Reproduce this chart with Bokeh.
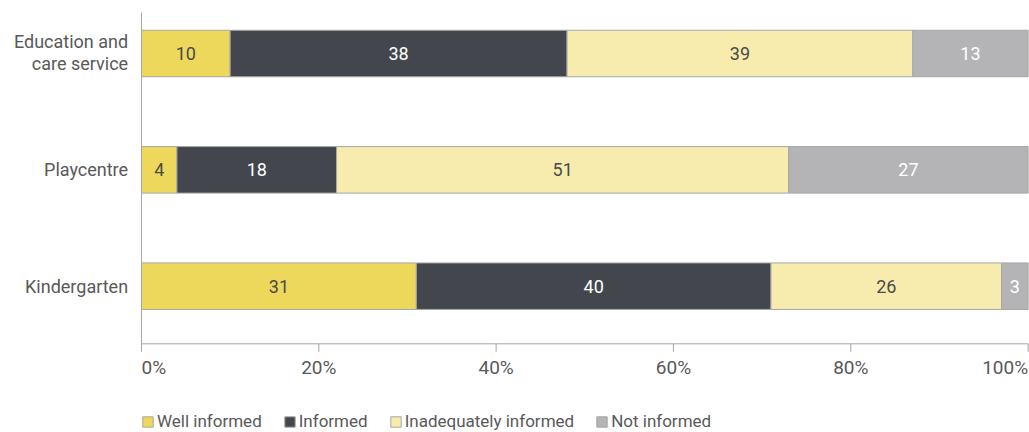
from bokeh.plotting import figure
from bokeh.models import Range1d, Legend, LegendItem, ColumnDataSource
from bokeh.core.properties import value
from bokeh.embed import file_html
from bokeh.resources import INLINE

# ---- data ----
categories = ["Kindergarten", "Playcentre", "Education and care service"]
category_lines = [["Kindergarten"], ["Playcentre"], ["Education and", "care service"]]
series_names = ["Well informed", "Informed", "Inadequately informed", "Not informed"]
well_informed = [31, 4, 10]
informed = [40, 18, 38]
inadequately_informed = [26, 51, 39]
not_informed = [3, 27, 13]
x_ticks = [0, 20, 40, 60, 80, 100]
x_tick_labels = ["0%", "20%", "40%", "60%", "80%", "100%"]

# ---- styles / layout ----
colors = ["#EDD85B", "#43474D", "#F7ECAE", "#B4B4B6"]
text_colors = ["#4A4A4A", "#FFFFFF", "#4A4A4A", "#FFFFFF"]
FONT = "Roboto"
GREY_TEXT = "#595959"
LINE = "#A6A6A6"

W, H = 1029, 432
PX_X = 8.866          # pixels per percentage point
PX_Y = 116.35         # pixels per category step
X0_PX = 141.0         # pixel column of 0 %
Y0_PX = 285.7         # pixel row of first category (from top)
AXIS_PX = 343.3       # pixel row of x axis line
TOP_PX = 12.0         # top of y axis line

def dy(px):
    return px / PX_Y

def dx(px):
    return px / PX_X

ypos = list(range(len(categories)))
axis_y = -dy(AXIS_PX - Y0_PX)
axis_top = dy(Y0_PX - TOP_PX)

p = figure(width=W, height=H,
           x_range=Range1d(-dx(X0_PX), dx(W - X0_PX)),
           y_range=Range1d(-dy(H - Y0_PX), dy(Y0_PX)),
           output_backend="svg", toolbar_location=None,
           min_border=0)
p.min_border_left = p.min_border_right = p.min_border_top = p.min_border_bottom = 0
p.xaxis.visible = False
p.yaxis.visible = False
p.grid.visible = False
p.outline_line_color = None

series = [well_informed, informed, inadequately_informed, not_informed]
left = [0] * len(categories)
renderers = []
for name, vals, col, tcol in zip(series_names, series, colors, text_colors):
    right = [l + v for l, v in zip(left, vals)]
    mid = [(l + r) / 2 for l, r in zip(left, right)]
    src = ColumnDataSource(dict(y=ypos, left=left, right=right, mid=mid,
                                lab=[str(v) for v in vals]))
    r = p.hbar(y="y", left="left", right="right", height=dy(46.5), source=src,
               fill_color=col, line_color=LINE, line_width=1)
    renderers.append((name, r))
    p.text(x="mid", y="y", text="lab", source=src, text_align="center",
           text_baseline="middle", text_color=tcol,
           text_font=value(FONT), text_font_size="18px")
    left = right

# axis lines and ticks
p.segment(x0=[0, 0], y0=[axis_y, axis_y], x1=[100, 0], y1=[axis_y, axis_top],
          line_color=LINE, line_width=1)
p.segment(x0=x_ticks, y0=[axis_y] * len(x_ticks), x1=x_ticks,
          y1=[axis_y - dy(8)] * len(x_ticks), line_color=LINE, line_width=1)

# x tick labels (edge labels clamped to the plot edges)
aligns = ["left" if t == x_ticks[0] else ("right" if t == x_ticks[-1] else "center")
          for t in x_ticks]
tick_src = ColumnDataSource(dict(x=x_ticks, y=[axis_y - dy(24)] * len(x_ticks),
                                 text=x_tick_labels, align=aligns))
p.text(x="x", y="y", text="text", text_align="align", source=tick_src,
       text_baseline="middle", text_font=value(FONT), text_font_size="19px",
       text_color=GREY_TEXT)

# category labels
cx, cy, ct = [], [], []
for yv, lines in zip(ypos, category_lines):
    offs = [0] if len(lines) == 1 else [12.5, -10]
    for line, off in zip(lines, offs):
        cx.append(-dx(13.4))
        cy.append(yv + dy(off))
        ct.append(line)
p.text(x=cx, y=cy, text=ct, text_align="right", text_baseline="middle",
       text_font=value(FONT), text_font_size="18px", text_color=GREY_TEXT)

legend = Legend(items=[LegendItem(label=n, renderers=[r]) for n, r in renderers],
                orientation="horizontal", location=(X0_PX, 1),
                glyph_width=13, glyph_height=13, label_standoff=3, spacing=21,
                padding=0, margin=0, border_line_color=None,
                background_fill_alpha=0,
                label_text_font=FONT, label_text_font_size="17px",
                label_text_color=GREY_TEXT)
p.add_layout(legend, "center")

open("out.html", "w").write(file_html(p, INLINE))
